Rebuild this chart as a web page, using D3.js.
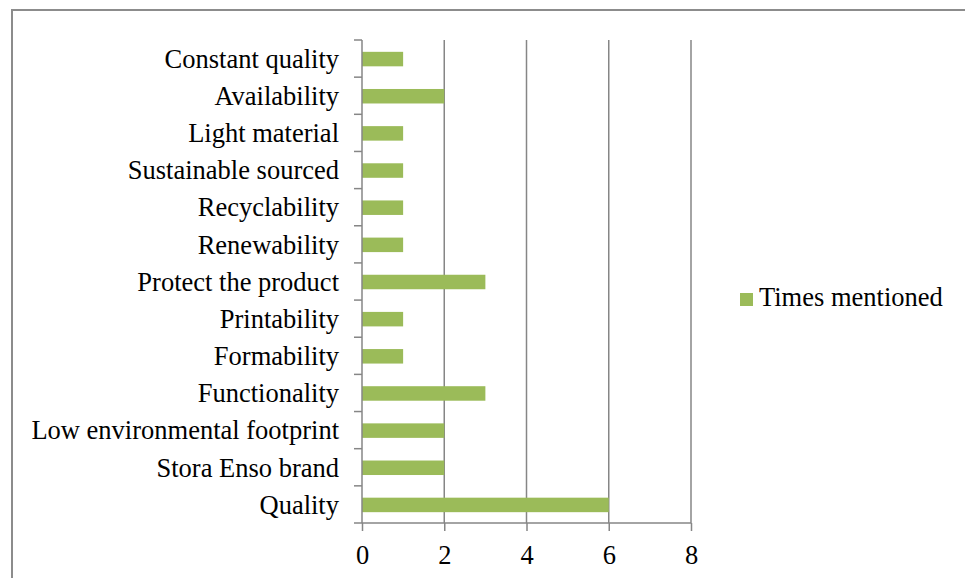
<!DOCTYPE html>
<html><head><meta charset="utf-8">
<script src="https://cdn.jsdelivr.net/npm/d3@7"></script>
<style>body{margin:0;background:#fff;} svg{display:block;}</style>
</head><body>
<svg id="c" width="965" height="578"></svg>
<script>
const categories = ["Constant quality","Availability","Light material","Sustainable sourced","Recyclability","Renewability","Protect the product","Printability","Formability","Functionality","Low environmental footprint","Stora Enso brand","Quality"];
const values = [1,2,1,1,1,1,3,1,1,3,2,2,6];
const xTicks = [0,2,4,6,8];
const seriesName = "Times mentioned";

const svg = d3.select("#c");
const font = "'Liberation Serif','Times New Roman',serif";
const gray = "#868686";
const green = "#9BBB59";
const fs = 26.5;

// outer border
svg.append("rect").attr("x",12).attr("y",10).attr("width",965).attr("height",600)
  .attr("fill","none").attr("stroke","#8c8c8c").attr("stroke-width",2);

const x = d3.scaleLinear().domain([0,8]).range([362,691]);
const y = d3.scaleBand().domain(categories).range([40,523]).paddingInner(0.6).paddingOuter(0.3);
const band = (523-40)/categories.length;

// gridlines
svg.append("g").selectAll("line").data(xTicks.filter(d=>d>0)).join("line")
  .attr("x1",d=>x(d)).attr("x2",d=>x(d)).attr("y1",40).attr("y2",523)
  .attr("stroke",gray).attr("stroke-width",1.5);

// bars
svg.append("g").selectAll("rect").data(categories).join("rect")
  .attr("x",x(0)).attr("y",d=>y(d)+ (y.bandwidth()-14.5)/2 + 0.5)
  .attr("width",(d,i)=>x(values[i])-x(0)).attr("height",14.5)
  .attr("fill",green);

// y axis
const ya = svg.append("g");
ya.append("line").attr("x1",x(0)).attr("x2",x(0)).attr("y1",40).attr("y2",523).attr("stroke",gray).attr("stroke-width",1.5);
ya.selectAll("line.t").data(d3.range(categories.length+1)).join("line").attr("class","t")
  .attr("x1",354).attr("x2",x(0)).attr("y1",i=>40+i*band).attr("y2",i=>40+i*band)
  .attr("stroke",gray).attr("stroke-width",1.5);
ya.selectAll("text").data(categories).join("text")
  .attr("x",339).attr("y",d=>y(d)+y.bandwidth()/2).attr("dy","0.35em")
  .attr("text-anchor","end").attr("font-family",font).attr("font-size",fs).attr("fill","#000")
  .text(d=>d);

// x axis
const xa = svg.append("g").attr("transform","translate(0,523)");
const xAxis = d3.axisBottom(x).tickValues(xTicks).tickSize(8).tickPadding(14).tickFormat(d3.format("d"));
xa.call(xAxis);
xa.select(".domain").attr("stroke",gray).attr("stroke-width",1.5).attr("d",`M${x(0)},0H${x(8)}`);
xa.selectAll(".tick line").attr("stroke",gray).attr("stroke-width",1.5);
xa.selectAll(".tick text").attr("font-family",font).attr("font-size",fs).attr("fill","#000");

// legend
const lg = svg.append("g");
lg.append("rect").attr("x",740).attr("y",293).attr("width",13).attr("height",13).attr("fill",green);
lg.append("text").attr("x",759).attr("y",306).attr("font-family",font).attr("font-size",fs).attr("fill","#000").text(seriesName);
</script>
</body></html>
